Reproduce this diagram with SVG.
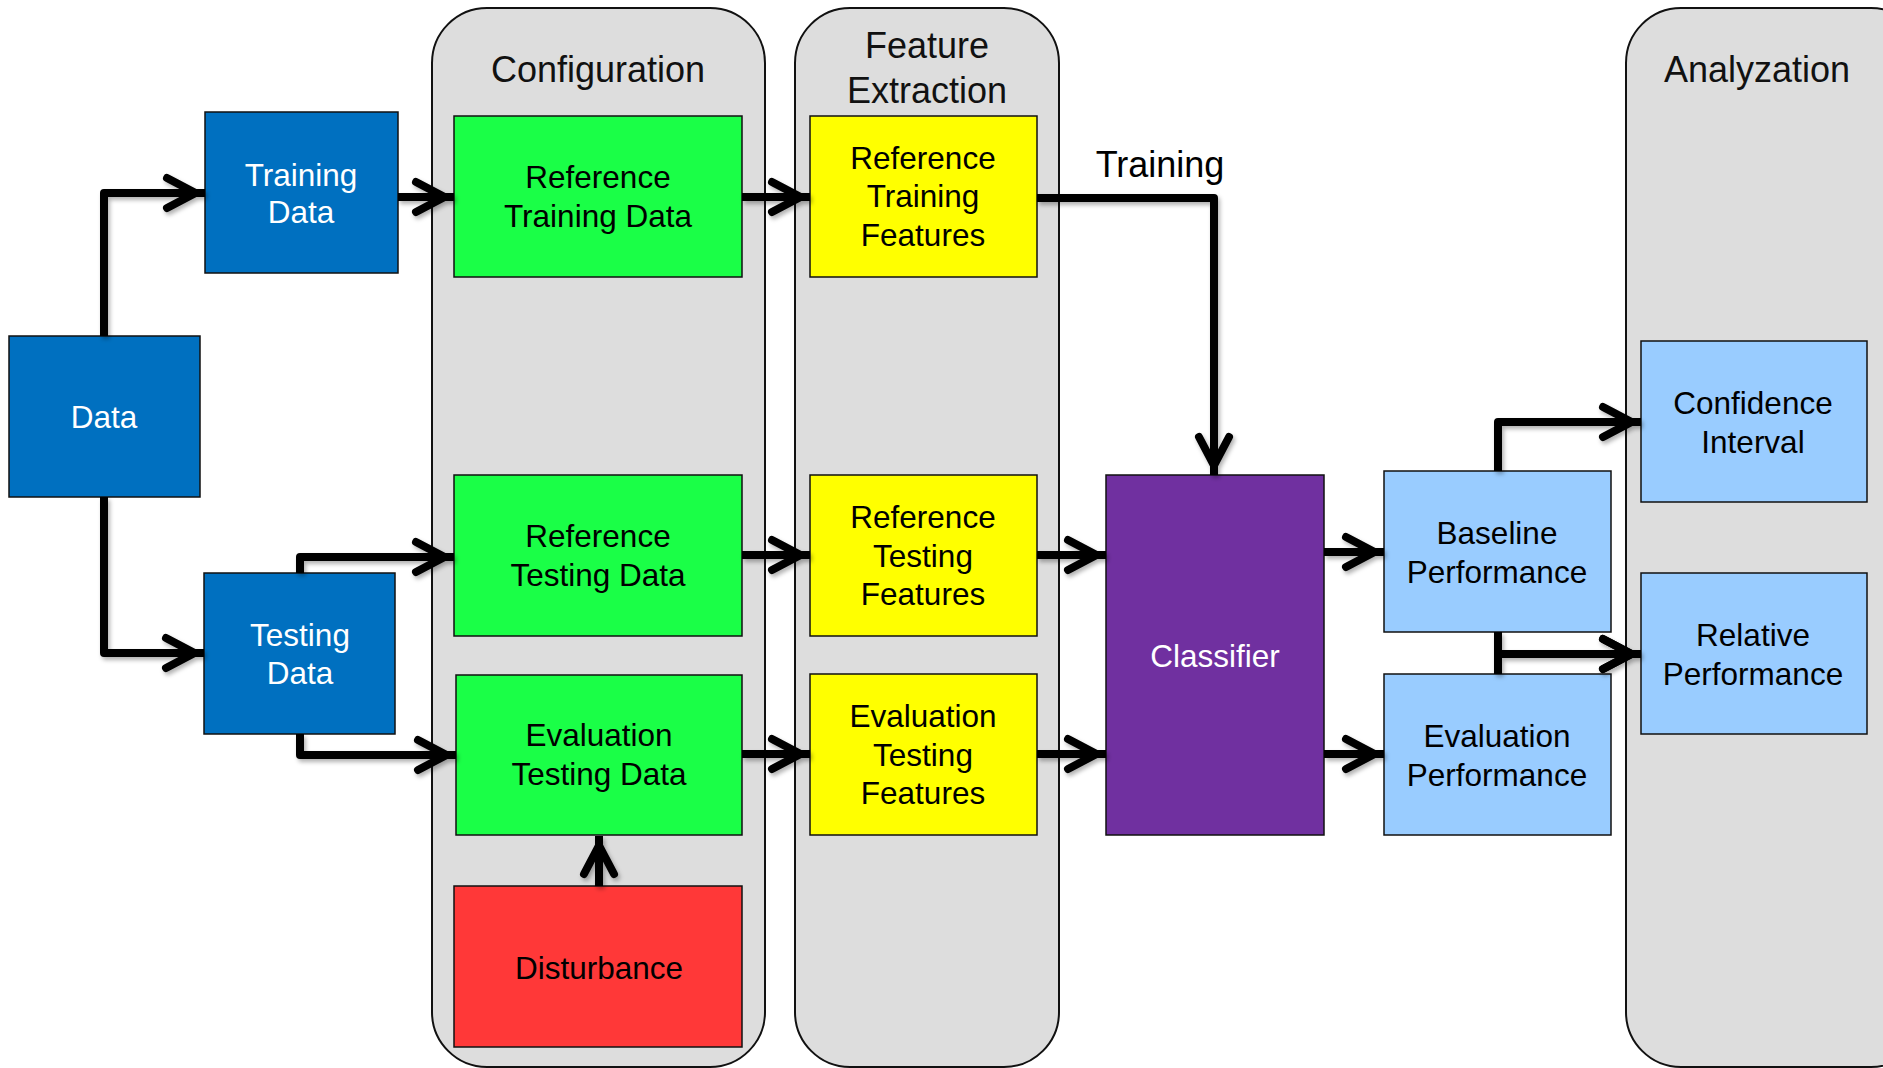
<svg xmlns="http://www.w3.org/2000/svg" width="1883" height="1068" viewBox="0 0 1883 1068">
<style>
text{font-family:"Liberation Sans",Arial,sans-serif;text-anchor:middle}
.panel{fill:#DDDDDD;stroke:#111;stroke-width:2}
.ptitle{font-size:36px;fill:#111}
.box{stroke:#111;stroke-width:1.5}
.lbl{font-size:31.5px;fill:#000}
.wl{font-size:31.5px;fill:#fff}
.blue{fill:#0070C0}
.green{fill:#1AFF47}
.yellow{fill:#FFFF00}
.red{fill:#FF3838}
.purple{fill:#7030A0}
.lblue{fill:#99CCFF}
.conn{fill:none;stroke:#000;stroke-width:8;stroke-linejoin:round;marker-end:url(#arr)}
</style>
<defs>
<marker id="arr" markerUnits="userSpaceOnUse" markerWidth="60" markerHeight="60" refX="0" refY="0" orient="auto" viewBox="-50 -30 60 60" overflow="visible">
<path d="M -38 -15 L -9.5 0 L -38 15" fill="none" stroke="#000" stroke-width="8" stroke-linecap="round" stroke-linejoin="miter"/>
</marker>
<filter id="sh" x="-10%" y="-10%" width="130%" height="130%">
<feDropShadow dx="2" dy="3" stdDeviation="2" flood-color="#000" flood-opacity="0.3"/>
</filter>
</defs>
<rect width="1883" height="1068" fill="#fff"/>

<g id="panel-configuration">
<rect class="panel" x="432" y="8" width="333" height="1059" rx="55" ry="55"/>
<text class="ptitle" x="598" y="82">Configuration</text>
</g>
<g id="panel-feature-extraction">
<rect class="panel" x="795" y="8" width="264" height="1059" rx="55" ry="55"/>
<text class="ptitle" x="927" y="58">Feature</text>
<text class="ptitle" x="927" y="103">Extraction</text>
</g>
<g id="panel-analyzation">
<rect class="panel" x="1626" y="8" width="300" height="1059" rx="55" ry="55"/>
<text class="ptitle" x="1757" y="82">Analyzation</text>
</g>

<g id="data">
<rect class="box blue" x="9" y="336" width="191" height="161"/>
<text class="wl" x="104" y="428">Data</text>
</g>
<g id="training-data">
<rect class="box blue" x="205" y="112" width="193" height="161"/>
<text class="wl" x="301" y="186">Training</text>
<text class="wl" x="301" y="223">Data</text>
</g>
<g id="testing-data">
<rect class="box blue" x="204" y="573" width="191" height="161"/>
<text class="wl" x="300" y="646">Testing</text>
<text class="wl" x="300" y="684">Data</text>
</g>

<g id="reference-training-data">
<rect class="box green" x="454" y="116" width="288" height="161"/>
<text class="lbl" x="598" y="188">Reference</text>
<text class="lbl" x="598" y="227">Training Data</text>
</g>
<g id="reference-testing-data">
<rect class="box green" x="454" y="475" width="288" height="161"/>
<text class="lbl" x="598" y="547">Reference</text>
<text class="lbl" x="598" y="586">Testing Data</text>
</g>
<g id="evaluation-testing-data">
<rect class="box green" x="456" y="675" width="286" height="160"/>
<text class="lbl" x="599" y="746">Evaluation</text>
<text class="lbl" x="599" y="785">Testing Data</text>
</g>
<g id="disturbance">
<rect class="box red" x="454" y="886" width="288" height="161"/>
<text class="lbl" x="599" y="979">Disturbance</text>
</g>

<g id="reference-training-features">
<rect class="box yellow" x="810" y="116" width="227" height="161"/>
<text class="lbl" x="923" y="169">Reference</text>
<text class="lbl" x="923" y="207">Training</text>
<text class="lbl" x="923" y="246">Features</text>
</g>
<g id="reference-testing-features">
<rect class="box yellow" x="810" y="475" width="227" height="161"/>
<text class="lbl" x="923" y="528">Reference</text>
<text class="lbl" x="923" y="567">Testing</text>
<text class="lbl" x="923" y="605">Features</text>
</g>
<g id="evaluation-testing-features">
<rect class="box yellow" x="810" y="674" width="227" height="161"/>
<text class="lbl" x="923" y="727">Evaluation</text>
<text class="lbl" x="923" y="766">Testing</text>
<text class="lbl" x="923" y="804">Features</text>
</g>

<g id="classifier">
<rect class="box purple" x="1106" y="475" width="218" height="360"/>
<text class="wl" x="1215" y="667">Classifier</text>
</g>
<g id="baseline-performance">
<rect class="box lblue" x="1384" y="471" width="227" height="161"/>
<text class="lbl" x="1497" y="544">Baseline</text>
<text class="lbl" x="1497" y="583">Performance</text>
</g>
<g id="evaluation-performance">
<rect class="box lblue" x="1384" y="674" width="227" height="161"/>
<text class="lbl" x="1497" y="747">Evaluation</text>
<text class="lbl" x="1497" y="786">Performance</text>
</g>
<g id="confidence-interval">
<rect class="box lblue" x="1641" y="341" width="226" height="161"/>
<text class="lbl" x="1753" y="414">Confidence</text>
<text class="lbl" x="1753" y="453">Interval</text>
</g>
<g id="relative-performance">
<rect class="box lblue" x="1641" y="573" width="226" height="161"/>
<text class="lbl" x="1753" y="646">Relative</text>
<text class="lbl" x="1753" y="685">Performance</text>
</g>

<g id="connectors">
<g filter="url(#sh)">
<path class="conn" d="M104 336 V193 H205"/>
<path class="conn" d="M104 497 V653 H204"/>
<path class="conn" d="M398 197 H454"/>
<path class="conn" d="M300 573 V557 H454"/>
<path class="conn" d="M300 734 V755 H456"/>
<path class="conn" d="M742 197 H810"/>
<path class="conn" d="M742 555 H810"/>
<path class="conn" d="M742 754 H810"/>
<path class="conn" d="M1037 198 H1214 V475"/>
<path class="conn" d="M1037 555 H1106"/>
<path class="conn" d="M1037 754 H1106"/>
<path class="conn" d="M1324 552 H1384"/>
<path class="conn" d="M1324 754 H1384"/>
<path class="conn" d="M1498 471 V422 H1641"/>
<path class="conn" d="M1498 632 V654 H1641"/>
<path class="conn" d="M1498 674 V654 H1641"/>
<path class="conn" d="M599 886 V836"/>
</g>
<text x="1160" y="177" style="font-size:36px;fill:#000">Training</text>
</g>
</svg>
